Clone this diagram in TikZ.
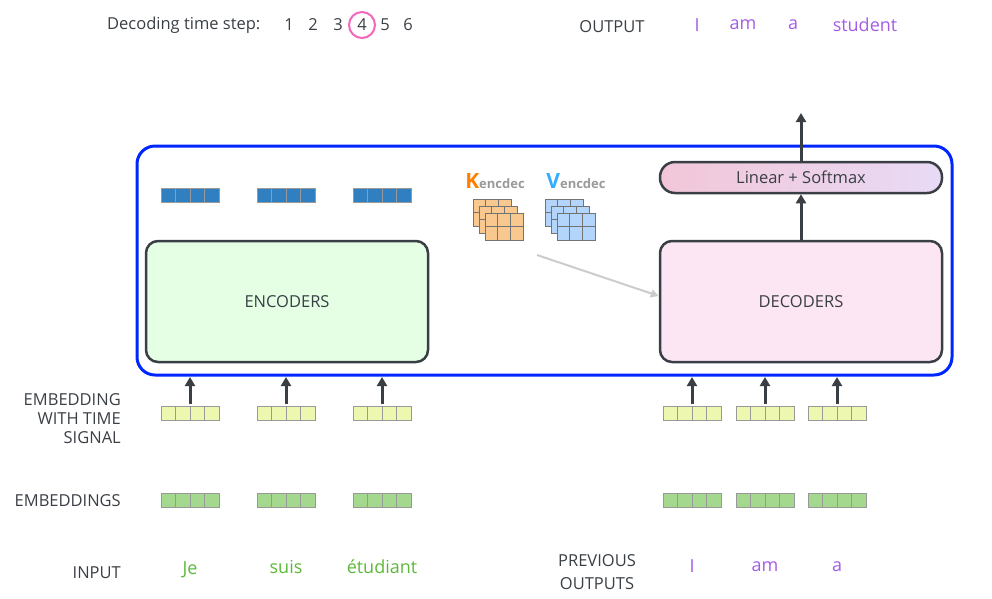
\documentclass[tikz,border=0pt]{standalone}
\usepackage{fontspec}
\setmainfont{Open Sans}
\setsansfont{Open Sans}
\usetikzlibrary{arrows.meta}
\definecolor{txt}{HTML}{3A3F45}
\definecolor{purp}{HTML}{A35CE6}
\definecolor{grn}{HTML}{5DB83A}
\definecolor{encb}{HTML}{2F7FC1}
\definecolor{yel}{HTML}{EEF7B0}
\definecolor{emb}{HTML}{A4D88E}
\definecolor{vbl}{HTML}{B3D4FB}
\definecolor{kor}{HTML}{F9C88E}
\definecolor{lpk}{HTML}{F2C6D8}
\definecolor{lvi}{HTML}{E8DAF5}
\begin{document}
\begin{tikzpicture}[x=1pt,y=-1pt,
  lab/.style={font=\fontsize{16.5}{19}\selectfont, text=txt, inner sep=0},
  word/.style={font=\fontsize{18}{20}\selectfont, inner sep=0},
  big/.style={draw=txt, line width=2.5pt, rounded corners=12pt},
  up/.style={-{Triangle[length=9pt,width=10pt]}, line width=3pt, draw=txt}]
\useasboundingbox (0,0) rectangle (992,598);
\newcommand{\vect}[4]{% x y fill name
  \node[#3, draw=black!40, line width=0.6pt, minimum width=58pt, minimum height=14pt, inner sep=0] (#4) at (#1,#2) {};
  \foreach \k in {-14.5,0,14.5} \draw[black!40, line width=0.6pt] (#1+\k,#2-7) -- (#1+\k,#2+7);}
\newcommand{\grid}[3]{% x y color ; top-left
  \fill[#3] (#1,#2) rectangle ++(38,27);
  \draw[black!55, line width=0.7pt] (#1,#2) rectangle ++(38,27) (#1+12.67,#2) -- ++(0,27) (#1+25.33,#2) -- ++(0,27) (#1,#2+13.5) -- ++(38,0);}
% header
\node[lab, anchor=west] (dts) at (107,25) {Decoding time step:};
\foreach \x/\d in {289/1,313/2,338/3,362/4,385/5,408/6} \node[lab] (d\d) at (\x,25) {\d};
\node[draw=magenta!60, line width=2pt, circle, minimum size=26pt, inner sep=0] (c4) at (362,25) {};
\node[lab] (out) at (612,27) {OUTPUT};
\node[word, text=purp] (o1) at (697,25) {I};
\node[word, text=purp] (o2) at (743,25) {am};
\node[word, text=purp] (o3) at (793,25) {a};
\node[word, text=purp] (o4) at (865,25) {student};
% main frame
\draw[draw=blue!85!cyan, line width=3pt, rounded corners=18pt] (137,146) rectangle (952,375);
\node[big, fill=green!10, minimum width=282pt, minimum height=121pt, lab] (enc) at (287,301.5) {ENCODERS};
\node[big, fill=magenta!10, minimum width=282pt, minimum height=121pt, lab] (dec) at (801,301.5) {DECODERS};
\node[draw=txt, line width=2.5pt, rounded corners=15pt, left color=lpk, right color=lvi, minimum width=282pt, minimum height=31pt, lab] (lin) at (801,177.5) {Linear + Softmax};
\coordinate (top) at (801,113);
\draw[up] (lin.north) -- (top);
\draw[up] (dec.north) -- (lin.south);
% encoder outputs
\vect{190}{195}{fill=encb}{e1}
\vect{286}{195}{fill=encb}{e2}
\vect{382}{195}{fill=encb}{e3}
% K V
\node[font=\fontsize{13}{14}\selectfont\bfseries, text=black!40, inner sep=0] (kl) at (495,181) {\textcolor{orange}{\fontsize{21}{21}\selectfont K}encdec};
\node[font=\fontsize{13}{14}\selectfont\bfseries, text=black!40, inner sep=0] (vl) at (576,181) {\textcolor{blue!40!cyan!80}{\fontsize{21}{21}\selectfont V}encdec};
\grid{473}{199}{kor}\grid{479}{206}{kor}\grid{485}{213}{kor}
\grid{545}{199}{vbl}\grid{551}{206}{vbl}\grid{557}{213}{vbl}
\coordinate (ga) at (537,255);
\draw[-{Triangle[length=8pt,width=8pt]}, line width=2pt, black!20] (ga) -- (dec.west |- 0,296);
% embeddings
\foreach \x/\n in {190/a,286/b,382/c,692/d,765/e,837/f}{
  \vect{\x}{413}{fill=yel}{t\n}
  \vect{\x}{500}{fill=emb}{m\n}
  \draw[up] (t\n.north) ++(0,-2) -- (\x,377);
}
% left labels
\node[lab, align=right, anchor=east, font=\fontsize{16.5}{19}\selectfont] (lt) at (121,419) {EMBEDDING\\WITH TIME\\SIGNAL};
\node[lab, anchor=east] (le) at (121,501) {EMBEDDINGS};
\node[lab, anchor=east] (li) at (121,573) {INPUT};
\node[word, text=grn] (w1) at (190,570) {Je};
\node[word, text=grn] (w2) at (286,567) {suis};
\node[word, text=grn] (w3) at (382,567) {étudiant};
\node[lab, align=center, font=\fontsize{16.5}{23}\selectfont] (po) at (597,572) {PREVIOUS\\OUTPUTS};
\node[word, text=purp] (p1) at (692,566) {I};
\node[word, text=purp] (p2) at (765,567) {am};
\node[word, text=purp] (p3) at (837,567) {a};
\end{tikzpicture}
\end{document}
